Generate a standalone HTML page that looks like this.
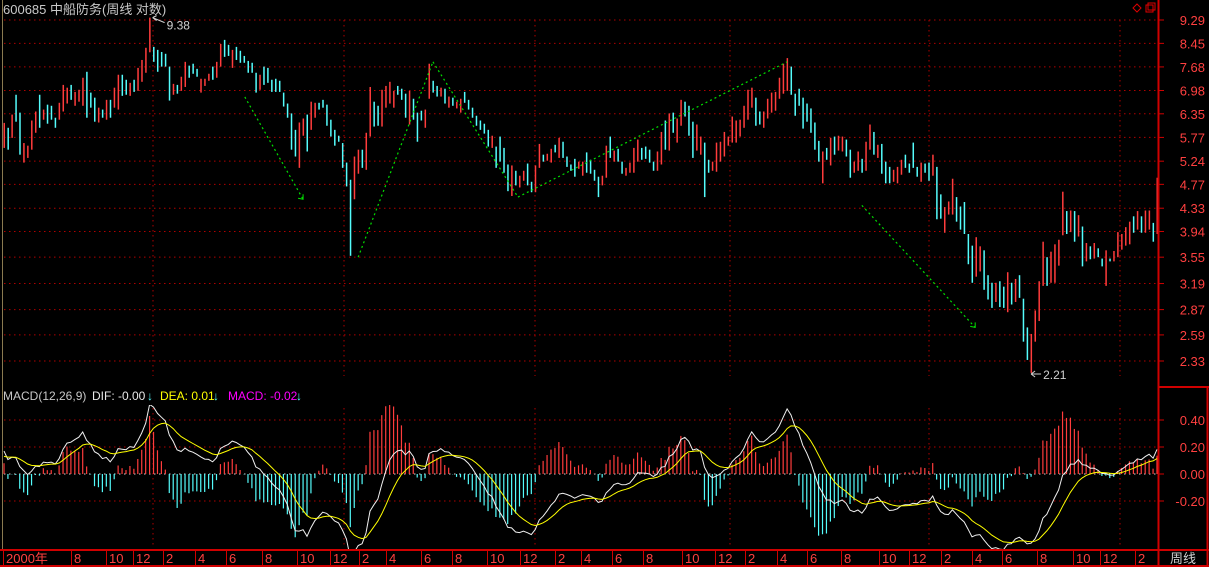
<!DOCTYPE html>
<html><head><meta charset="utf-8">
<style>
html,body{margin:0;padding:0;background:#000;width:1209px;height:567px;overflow:hidden}
svg{display:block}
text{font-family:"Liberation Sans","Noto Sans CJK SC",sans-serif}
</style></head>
<body>
<svg id="chart" width="1209" height="567" viewBox="0 0 1209 567" xmlns="http://www.w3.org/2000/svg">
<defs><clipPath id="mclip"><rect x="3" y="405" width="1155" height="144"/></clipPath></defs>
<rect x="0" y="0" width="1209" height="567" fill="#000"/>
<g id="grid"></g>
<g id="bars"></g>
<g id="trend"></g>
<g id="macd" clip-path="url(#mclip)"></g>
<g id="axes"></g>
<text x="3" y="14" font-size="13" fill="#c8c8c8">600685 中船防务(周线 对数)</text>
<text x="3" y="400" font-size="12" fill="#c8c8c8">MACD(12,26,9)</text>
<text x="92" y="400" font-size="12" fill="#e8e8e8">DIF: -0.00</text>
<text x="147" y="400" font-size="12" fill="#54fcfc">↓</text>
<text x="160" y="400" font-size="12" fill="#ffff00">DEA: 0.01</text>
<text x="213" y="400" font-size="12" fill="#54fcfc">↓</text>
<text x="228" y="400" font-size="12" fill="#ff00ff">MACD: -0.02</text>
<text x="296" y="400" font-size="12" fill="#54fcfc">↓</text>
<g>
<path d="M1137 4 L1141 8 L1137 12 L1133 8 Z" fill="none" stroke="#e00000" stroke-width="1"/>
<rect x="1146" y="5" width="7" height="7" fill="none" stroke="#e00000"/>
<rect x="1148" y="3" width="7" height="7" fill="none" stroke="#e00000"/>
</g>
</svg>
<script>
const opens=[5.53,6.00,5.76,6.86,6.38,5.21,5.31,5.49,5.88,6.86,6.20,6.59,6.56,6.25,6.20,6.41,6.62,7.14,6.56,6.67,6.56,7.53,6.92,6.78,6.13,6.46,6.20,6.72,6.51,6.46,7.44,7.29,6.83,7.29,6.97,7.23,7.50,8.15,
8.33,8.23,8.16,8.10,7.69,6.86,7.14,6.97,7.08,7.72,7.78,7.62,6.92,7.11,7.26,7.69,7.35,7.69,8.57,8.40,7.65,8.33,8.20,8.03,7.87,7.81,7.50,7.00,7.69,7.65,7.29,7.32,7.26,6.92,6.62,6.36,
5.95,5.10,5.81,6.33,5.95,6.25,6.64,6.72,6.59,6.20,5.95,5.81,5.64,5.21,4.86,4.49,4.98,5.49,5.06,5.79,6.67,6.56,6.03,6.51,6.62,6.51,7.11,7.03,6.89,6.08,6.75,6.38,6.43,6.00,6.75,7.26,7.11,6.81,7.03,6.51,6.78,6.49,6.38,6.94,6.72,6.51,6.30,6.18,6.10,5.95,5.53,5.56,5.79,5.53,5.17,4.55,5.04,4.71,4.84,5.19,4.82,4.62,5.10,5.38,5.25,5.21,5.60,5.31,5.67,5.34,5.17,5.29,5.08,4.94,5.43,5.27,5.06,4.92,4.75,4.90,5.79,5.23,5.51,5.23,4.94,5.00,5.00,5.23,5.53,5.56,5.49,5.23,5.04,5.17,6.18,5.47,6.38,5.65,6.05,6.67,6.56,6.15,5.47,5.38,5.65,5.27,5.04,5.02,5.23,5.34,5.58,5.65,5.65,5.79,6.00,6.20,6.51,6.78,6.41,6.00,6.23,6.38,6.43,6.75,6.89,6.97,7.69,6.89,7.03,6.78,6.62,6.49,6.13,5.69,4.79,5.53,5.15,5.79,5.47,5.45,5.72,5.49,5.00,5.04,5.29,5.04,5.49,5.90,5.31,5.62,5.23,5.12,4.82,4.79,4.96,5.38,5.19,5.65,5.12,4.82,5.19,5.21,4.94,5.12,4.58,3.92,4.22,4.22,4.53,4.36,4.44,3.90,3.72,3.28,3.35,3.65,3.30,3.20,2.96,3.22,3.15,2.84,3.20,2.96,3.30,3.00,2.67,2.22,2.52,2.74,3.16,3.55,3.20,3.20,3.43,3.88,4.28,3.93,4.28,3.86,4.02,3.49,3.71,3.53,3.68,3.53,3.16,3.53,3.49,3.55,3.66,3.72,3.74,4.19,3.97,4.19,3.92,3.97,4.08,3.90];
const closes=[6.12,5.49,6.33,6.15,5.38,5.64,5.58,6.18,6.41,6.00,6.46,6.10,6.20,6.00,6.64,7.14,7.06,6.72,6.94,7.00,7.35,6.25,6.51,6.15,6.51,6.25,6.72,6.25,7.06,7.44,6.83,6.86,7.20,6.94,7.65,7.90,8.30,9.38,
7.84,7.53,7.69,7.69,6.70,7.17,6.89,7.38,7.84,7.35,7.47,7.38,7.32,7.32,7.47,7.29,7.84,8.43,8.00,8.03,8.23,7.90,7.81,7.81,7.50,7.50,6.92,7.44,7.14,7.20,6.94,6.94,6.94,6.54,6.25,5.49,
5.34,6.13,6.23,5.45,6.67,6.64,6.46,6.51,6.05,5.79,5.58,5.67,5.10,4.73,3.57,5.34,5.49,5.10,5.88,7.08,6.03,6.05,7.00,7.11,7.23,6.97,6.86,6.72,6.25,6.97,6.20,5.67,6.18,6.46,7.78,6.92,6.81,7.06,6.62,6.81,6.56,6.67,6.75,6.64,6.46,6.25,6.05,5.95,5.86,5.56,5.81,5.10,5.23,5.00,4.64,5.15,4.75,4.94,5.04,4.75,4.62,5.15,5.62,5.23,5.40,5.51,5.43,5.76,5.31,5.12,5.04,4.92,5.23,5.23,5.00,4.98,4.84,4.53,4.94,5.58,5.31,5.47,5.23,4.98,5.10,5.21,5.53,5.72,5.27,5.29,5.21,5.04,5.45,5.90,5.49,6.36,5.88,6.23,6.72,6.28,5.81,5.31,6.08,5.79,4.53,5.00,5.23,5.65,5.67,5.90,5.79,6.28,6.18,6.20,6.56,7.00,7.06,6.05,6.08,6.41,6.75,6.92,6.94,7.35,7.78,7.96,6.86,6.30,6.56,5.98,6.15,5.88,5.49,5.23,5.45,5.27,5.76,5.38,5.81,5.79,5.34,4.90,5.23,5.45,5.00,5.67,6.08,5.38,5.60,4.98,4.79,4.79,5.06,5.12,5.27,5.10,5.00,5.10,4.92,5.21,5.00,4.84,5.38,4.14,4.15,4.35,4.45,4.88,4.10,3.97,3.90,3.45,3.20,3.85,3.71,3.11,2.99,2.89,3.20,2.90,2.89,3.34,2.93,3.25,3.01,2.52,2.34,2.60,2.86,3.22,3.78,3.16,3.63,3.74,3.81,4.63,3.90,4.29,3.78,4.21,3.42,3.76,3.52,3.76,3.55,3.42,3.65,3.49,3.64,3.93,3.90,4.01,4.10,3.92,4.28,3.92,4.29,4.29,3.78,4.90];
const priceTicks=[9.29,8.45,7.68,6.98,6.35,5.77,5.24,4.77,4.33,3.94,3.55,3.19,2.87,2.59,2.33];
const macdTicks=[0.40,0.20,0.00,-0.20];
const monthLabels=["2000年","8","10","12","2","4","6","8","10","12","2","4","6","8","10","12","2","4","6","8","10","12","2","4","6","8","10","12","2","4","6","8","10","12","2"];
const monthTickX=[3,71,106,133,163,195,226,262,297,330,359,386,421,452,487,520,555,581,612,643,682,715,745,777,807,841,879,909,941,972,1002,1037,1073,1100,1135];
const trendSegs=[[61.2,6.80,76,4.49],[90,3.55,109,7.84],[109,7.84,130.6,4.53],[130.6,4.53,199,7.84],[218,4.38,246.8,2.67]];
const yearLinesX=[153,344,535,730,929,1120];

const NS="http://www.w3.org/2000/svg";
function mk(tag,attrs,parent){const e=document.createElementNS(NS,tag);for(const k in attrs)e.setAttribute(k,attrs[k]);parent.appendChild(e);return e;}
const PL=1158, N=closes.length;
const xOf=i=>4+i*(1153/(N-1));
const lnTop=Math.log(9.29), lnBot=Math.log(2.33);
const yP=p=>20+(lnTop-Math.log(p))/(lnTop-lnBot)*341;
const Z=474, K=135;
const yM=v=>Z-v*K;

const grid=document.getElementById('grid');
priceTicks.forEach(p=>{const l=mk('line',{x1:4,x2:PL,y1:yP(p),y2:yP(p),stroke:'#b00000','stroke-dasharray':'1.5 3.5'},grid);

});
yearLinesX.forEach(x=>{const l=mk('line',{x1:x,x2:x,y1:20,y2:376,stroke:'#b00000','stroke-dasharray':'1.5 3.5'},grid);


const l2=mk('line',{x1:x,x2:x,y1:408,y2:548,stroke:'#b00000','stroke-dasharray':'1.5 3.5'},grid);

});
macdTicks.forEach(v=>{const l=mk('line',{x1:4,x2:PL,y1:yM(v),y2:yM(v),stroke:v===0?'#d0d0d0':'#b00000','stroke-dasharray':'1.5 3.5'},grid);

});

const bars=document.getElementById('bars');
for(let i=0;i<N;i++){const o=opens[i],c=closes[i];const up=c>=o;
const y1=yP(Math.max(o,c)),y2=yP(Math.min(o,c));
const r=mk('rect',{x:xOf(i)-0.5,y:y1,width:1.5,height:Math.max(1,y2-y1),fill:up?'#ff3c3c':'#54fcfc'},bars);

}

let hi=0,lo=0;for(let i=0;i<N;i++){if(closes[i]>closes[hi])hi=i;if(Math.min(opens[i],closes[i])<Math.min(opens[lo],closes[lo]))lo=i;}
const hx=xOf(hi)+3,hy=yP(closes[hi]);
mk('path',{d:`M${hx} ${hy} L${hx+12} ${hy+5} M${hx} ${hy} l4 -2 M${hx} ${hy} l4 3`,stroke:'#d0d0d0',fill:'none'},bars);
const ht=mk('text',{x:hx+14,y:hy+12,'font-size':12,fill:'#d0d0d0'},bars);ht.textContent=closes[hi].toFixed(2);


const lv=Math.min(opens[lo],closes[lo])-0.01;const lx=xOf(lo),ly=yP(lv);
mk('path',{d:`M${lx} ${ly} L${lx+10} ${ly} M${lx} ${ly} l4 -3 M${lx} ${ly} l4 3`,stroke:'#d0d0d0',fill:'none'},bars);
const lt=mk('text',{x:lx+12,y:ly+5,'font-size':12,fill:'#d0d0d0'},bars);lt.textContent=lv.toFixed(2);



const trend=document.getElementById('trend');
trendSegs.forEach((s,k)=>{const l=mk('line',{x1:xOf(s[0]),y1:yP(s[1]),x2:xOf(s[2]),y2:yP(s[3]),stroke:'#00e000','stroke-dasharray':'2 3','stroke-width':1.2},trend);


if(k===0||k===4){const ex=xOf(s[2]),ey=yP(s[3]);mk('path',{d:`M${ex-5} ${ey-1} L${ex} ${ey} L${ex} ${ey-5}`,stroke:'#00e000',fill:'none'},trend);}});

const dif=[],dea=[],hist=[];let e12=closes[0],e26=closes[0]*0.97,d=0.12;
for(let i=0;i<N;i++){e12=e12+(closes[i]-e12)*2/13;e26=e26+(closes[i]-e26)*2/27;const df=e12-e26;d=d+(df-d)*2/10;dif.push(df);dea.push(d);hist.push(2*(df-d));}
const mg=document.getElementById('macd');
for(let i=0;i<N;i++){const v=hist[i];const r=mk('line',{x1:xOf(i),x2:xOf(i),y1:Z,y2:yM(v),stroke:v>=0?'#ff3c3c':'#54fcfc','stroke-width':1.2},mg);

}
const pd=a=>a.map((v,i)=>(i?'L':'M')+xOf(i).toFixed(1)+' '+yM(v).toFixed(1)).join(' ');
const dl=mk('path',{d:pd(dif),stroke:'#f0f0f0',fill:'none','stroke-width':1},mg);


const el=mk('path',{d:pd(dea),stroke:'#ffff00',fill:'none','stroke-width':1},mg);



const ax=document.getElementById('axes');
mk('line',{x1:2.5,x2:2.5,y1:0,y2:549,stroke:'#8a7a50'},ax);
mk('line',{x1:1158.5,x2:1158.5,y1:0,y2:567,stroke:'#d00000','stroke-width':2},ax);
mk('line',{x1:1207.5,x2:1207.5,y1:387,y2:567,stroke:'#d00000','stroke-width':2},ax);
mk('line',{x1:1158,x2:1209,y1:387,y2:387,stroke:'#d00000','stroke-width':2},ax);
mk('line',{x1:0,x2:1209,y1:550,y2:550,stroke:'#d00000','stroke-width':2},ax);
mk('line',{x1:0,x2:1209,y1:566,y2:566,stroke:'#d00000','stroke-width':2},ax);
priceTicks.forEach(p=>{mk('line',{x1:1158,x2:1164,y1:yP(p),y2:yP(p),stroke:'#d00000'},ax);
const t=mk('text',{x:1205,y:yP(p)+5,'font-size':13,fill:'#ff4040','text-anchor':'end'},ax);t.textContent=p.toFixed(2);

});
macdTicks.forEach(v=>{mk('line',{x1:1158,x2:1164,y1:yM(v),y2:yM(v),stroke:'#d00000'},ax);
const t=mk('text',{x:1205,y:yM(v)+5,'font-size':13,fill:'#ff4040','text-anchor':'end'},ax);t.textContent=v.toFixed(2);

});
monthLabels.forEach((s,i)=>{const x=monthTickX[i];mk('line',{x1:x+0.5,x2:x+0.5,y1:550,y2:567,stroke:'#d00000'},ax);
const t=mk('text',{x:x+3,y:563,'font-size':13,fill:'#ff4040'},ax);t.textContent=s;

});
const pt=mk('text',{x:1170,y:563,'font-size':13,fill:'#d0d0d0'},ax);pt.textContent='周线';


</script>
</body></html>
